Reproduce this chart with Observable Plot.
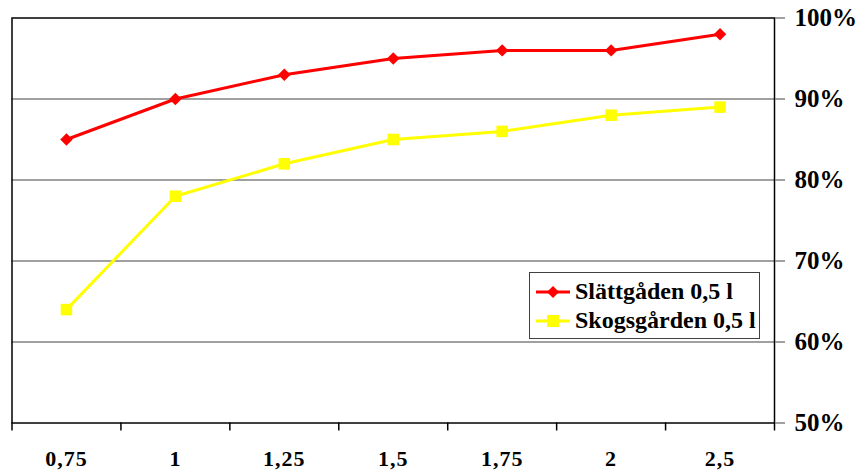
<!DOCTYPE html>
<html>
<head>
<meta charset="utf-8">
<script src="https://cdn.jsdelivr.net/npm/d3@7"></script>
<script src="https://cdn.jsdelivr.net/npm/@observablehq/plot@0.6"></script>
<style>
  html, body { margin: 0; padding: 0; background: white; }
  #wrap { position: relative; width: 856px; height: 473px; }
  #wrap svg { display: block; }
  #legend { position: absolute; left: 529px; top: 272px; width: 229px; height: 65px;
    border: 1px solid #404040; background: white; font-family: "Liberation Serif", serif;
    font-weight: bold; font-size: 24px; color: black; white-space: nowrap; }
  .row { display: flex; align-items: center; height: 29px; margin-left: 6px; white-space: nowrap; }
  .row:first-child { margin-top: 4px; }
  .row svg { margin-right: 5px; flex: none; }
</style>
</head>
<body>
<div id="wrap"></div>
<script>
const categories = ["0,75", "1", "1,25", "1,5", "1,75", "2", "2,5"];
const slattgaden = [85, 90, 93, 95, 96, 96, 98];
const skogsgarden = [64, 78, 82, 85, 86, 88, 89];
const yTicks = [50, 60, 70, 80, 90, 100];
const gridValues = [60, 70, 80, 90];
const seriesNames = ["Slättgåden 0,5 l", "Skogsgården 0,5 l"];
const seriesColors = ["#FF0000", "#FFFF00"];
const seriesSymbols = ["diamond2", "square"];

const rows = [];
categories.forEach((c, i) => {
  rows.push({i, value: slattgaden[i], series: seriesNames[0]});
  rows.push({i, value: skogsgarden[i], series: seriesNames[1]});
});
const s1 = rows.filter(d => d.series === seriesNames[0]);
const s2 = rows.filter(d => d.series === seriesNames[1]);

const chart = Plot.plot({
  width: 856,
  height: 473,
  marginTop: 17.5,
  marginBottom: 50.5,
  marginLeft: 11.5,
  marginRight: 82,
  style: {fontFamily: "'Liberation Serif', serif", background: "white", color: "black"},
  x: {type: "linear", domain: [-0.5, categories.length - 0.5], label: null},
  y: {domain: [50, 100], label: null},
  marks: [
    Plot.ruleY(gridValues, {stroke: "#808080", strokeWidth: 1.5}),
    Plot.frame({stroke: "black", strokeWidth: 1.5}),
    Plot.axisX(d3.range(-0.5, categories.length, 1), {tickSize: 8, tickFormat: () => "", stroke: "black", strokeWidth: 1.5, label: null}),
    Plot.axisX(d3.range(categories.length), {tickSize: 0, tickPadding: 27, tickFormat: i => categories[i], fontWeight: "bold", fill: "black", label: null}),
    Plot.axisY(yTicks, {anchor: "right", tickSize: 10, tickPadding: 10, stroke: "#808080", strokeWidth: 1.5, tickFormat: d => d + "%", fontWeight: "bold", fill: "black", label: null}),
    Plot.line(s2, {x: "i", y: "value", stroke: seriesColors[1], strokeWidth: 3}),
    Plot.line(s1, {x: "i", y: "value", stroke: seriesColors[0], strokeWidth: 3}),
    Plot.dot(s2, {x: "i", y: "value", symbol: seriesSymbols[1], fill: seriesColors[1], r: 6.5}),
    Plot.dot(s1, {x: "i", y: "value", symbol: seriesSymbols[0], fill: seriesColors[0], stroke: "none", r: 5.6})
  ]
});
document.getElementById("wrap").appendChild(chart);

// font sizes of tick labels
d3.select(chart).selectAll("text").each(function() {
  const t = d3.select(this);
  const s = t.text();
  if (s.endsWith("%")) t.style("font-size", "25px").style("font-weight", "bold");
  else if (categories.includes(s)) t.style("font-size", "22px").style("font-weight", "bold").style("letter-spacing", "1px");
});

// legend
const legend = document.createElement("div");
legend.id = "legend";
seriesNames.forEach((name, k) => {
  const row = document.createElement("div");
  row.className = "row";
  const sym = k === 0
    ? `<polygon points="17,4 23,10 17,16 11,10" fill="${seriesColors[k]}"/>`
    : `<rect x="11" y="4" width="12" height="12" fill="${seriesColors[k]}"/>`;
  row.innerHTML = `<svg width="34" height="20"><line x1="0" x2="34" y1="10" y2="10" stroke="${seriesColors[k]}" stroke-width="3"/>${sym}</svg><span>${name}</span>`;
  legend.appendChild(row);
});
document.getElementById("wrap").appendChild(legend);
</script>
</body>
</html>
